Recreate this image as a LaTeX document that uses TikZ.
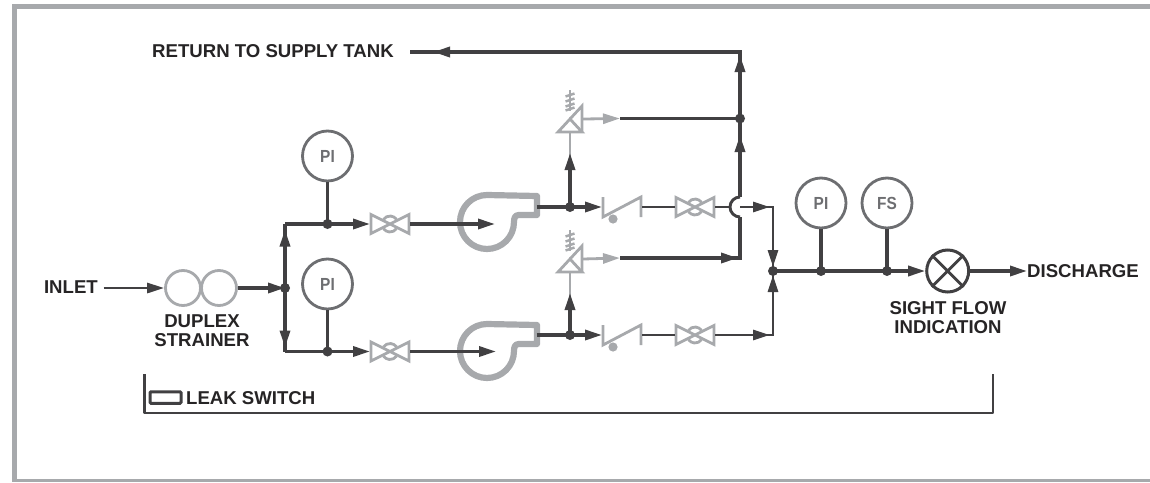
\documentclass[tikz,border=0pt]{standalone}
\usepackage{fontspec}
\setmainfont{Liberation Sans}
\newfontfamily\gaugefont[FakeStretch=0.88]{Liberation Sans Bold}
\usetikzlibrary{arrows.meta}
\definecolor{dk}{HTML}{414042}
\definecolor{gy}{HTML}{A7A9AC}
\definecolor{md}{HTML}{6D6E71}
\definecolor{tx}{HTML}{262425}
\tikzset{
 x=1pt,y=-1pt,
 main/.style={draw=dk,line width=3.3pt},
 thin line/.style={draw=dk,line width=2.9pt},
 gline/.style={draw=gy,line width=2.8pt},
 flow/.style={-{Triangle[length=17pt,width=10pt]}},
 dot/.style={circle,fill=dk,draw=none,minimum size=10pt,inner sep=0pt},
 gauge/.style={circle,draw=md,fill=white,line width=2.8pt,minimum size=50pt,inner sep=0pt,text=md,font=\fontsize{17.5}{17.5}\gaugefont},
 strainer/.style={circle,draw=gy,fill=white,line width=2.8pt,minimum size=35pt,inner sep=0pt},
 label/.style={text=tx,inner sep=0pt,align=center,font=\fontsize{18.6}{18.6}\selectfont\bfseries},
 bowtie/.pic={
  \draw[gline,line join=miter] (-19,-9.5)--(19,9.5)--(19,-9.5)--(-19,9.5)--cycle;
  \draw[gline] (35:8) arc[start angle=35,end angle=145,radius=8];
  \draw[gline] (215:8) arc[start angle=215,end angle=325,radius=8];
  \coordinate (-l) at (-20,0); \coordinate (-r) at (20,0);
 },
 checkv/.pic={
  \draw[gline] (-19,-10)--(-19,10)--(19,-10)--(19,10);
  \fill[gy] (-9,12) circle[radius=4.6];
  \coordinate (-l) at (-20,0); \coordinate (-r) at (20,0);
 },
 relief/.pic={
  \draw[gline,line join=miter] (-12,13)--(12,13)--(0,0)--cycle;
  \draw[gline,line join=miter] (12,13)--(12,-13)--(0,0);
  \draw[gy,line width=2.4pt] (0,-8)--(0,-29);
  \foreach \s in {-24,-19,-14,-10} \draw[gy,line width=2.4pt] (-4.5,\s+1.5)--(4.5,\s-1.5);
  \coordinate (-in) at (0,13); \coordinate (-out) at (13,0);
 },
 pumpbody/.pic={
  \draw[draw=gy,line width=6.2pt,line join=round]
    (27,-1) arc[start angle=0,delta angle=270,radius=27] -- (50,-27) -- (50,-8) -- (32,-8) .. controls (28,-8) and (27,-5) .. (27,-1);
  \coordinate (-out) at (50,-17); \coordinate (-in) at (8,0);
 },
}
\begin{document}
\begin{tikzpicture}
\useasboundingbox (0,0) rectangle (1150,482);
% frame
\draw[gy,line width=4.6pt] (1150,6.7) -- (14.5,6.7) -- (14.5,481.5);
\draw[gy,line width=3pt] (12.2,480.5) -- (1150,480.5);
% leak bracket
\draw[draw=dk,line width=2.9pt,line join=round] (144.5,374) -- (144.5,413) -- (993,413) -- (993,374);
\node[draw=dk,line width=3pt,rounded corners=1pt,minimum width=31pt,minimum height=11.5pt,inner sep=0pt] (leak) at (165.5,397.5) {};
\node[label,anchor=west] (leakt) at (186,398.5) {LEAK SWITCH};
% labels
\node[label,anchor=west] (ret) at (152,51) {RETURN TO SUPPLY TANK};
\node[label,anchor=east] (inlet) at (98,287) {INLET};
\node[label] (dup) at (202,330.5) {DUPLEX\\STRAINER};
\node[label] (sight) at (948,317.5) {SIGHT FLOW\\INDICATION};
\node[label,anchor=west] (dis) at (1027,271) {DISCHARGE};
% equipment
\node[strainer] (s1) at (183,288) {};
\node[strainer] (s2) at (219,288) {};
\node[gauge] (g1) at (327.5,156) {PI};
\node[gauge] (g2) at (327.5,284) {PI};
\node[gauge] (g3) at (821,203) {PI};
\node[gauge] (g4) at (887,203) {FS};
\node[circle,draw=dk,line width=3pt,minimum size=42pt,inner sep=0pt] (sf) at (947.7,271) {};
\draw[dk,line width=2.8pt] (sf.45)--(sf.225) (sf.135)--(sf.315);
\pic (p1) at (487,223) {pumpbody};
\pic (p2) at (487,352) {pumpbody};
\pic (v1) at (390,224) {bowtie};
\pic (v2) at (390,351.5) {bowtie};
\pic (v3) at (695,207) {bowtie};
\pic (v4) at (695,335) {bowtie};
\pic (c1) at (622,207) {checkv};
\pic (c2) at (622,335) {checkv};
\pic (r1) at (570,119) {relief};
\pic (r2) at (570,259) {relief};
% junctions
\node[dot] (j0) at (285,288) {};
\node[dot] (j1) at (327.5,224) {};
\node[dot] (j2) at (327.5,351.5) {};
\node[dot] (j3) at (570,207) {};
\node[dot] (j4) at (570,335) {};
\node[dot] (j5) at (740,118.5) {};
\node[dot] (j6) at (773,271) {};
\node[dot] (j7) at (821,271) {};
\node[dot] (j8) at (887,271) {};
% free points
\coordinate (inA) at (103.5,288);
\coordinate (upC) at (285,224);
\coordinate (dnC) at (285,351.5);
\coordinate (pa1) at (495,224);
\coordinate (pa2) at (496,351.5);
\coordinate (rt) at (620,118.5);
\coordinate (rb) at (620,258);
\coordinate (cr1) at (740,258);
\coordinate (ju) at (740,197);
\coordinate (jd) at (740,217);
\coordinate (jc) at (740,207);
\coordinate (top) at (740,52);
\coordinate (retE) at (410,52);
\coordinate (cr2) at (773,207);
\coordinate (cr3) at (773,335);
% gray relief lines
\draw[gline] (r1-in) -- (570,160);
\draw[gline] (r2-in) -- (570,300);
\draw[gline,flow] (r1-out) -- (rt);
\draw[gline,flow] (r2-out) -- (rb);
% dark lines
\draw[thin line,flow] (inA) -- (s1.west);
\draw[main,flow] (s2.east) -- (j0.center);
\draw[main,flow] (j0.center) -- ++(0,-58.5);
\draw[main] (j0.center) -- (upC);
\draw[main,flow] (j0.center) -- ++(0,59.5);
\draw[main] (j0.center) -- (dnC);
\draw[main,line cap=square] (upC) -- (j1.center);
\draw[main,line cap=square] (dnC) -- (j2.center);
\draw[main,flow] (j1.center) -- (v1-l);
\draw[main,flow] (j2.center) -- (v2-l);
\draw[main] (g1) -- (j1.center);
\draw[main] (g2) -- (j2.center);
\draw[main,flow] (v1-r) -- (pa1);
\draw[main,flow] (v2-r) -- (pa2);
\draw[main,flow] (p1-out) ++(-0.5,1) -- (c1-l);
\draw[main,flow] (p2-out) ++(-0.5,0) -- (c2-l);
\draw[main,flow] (j3.center) -- (570,153);
\draw[main,flow] (j4.center) -- (570,293);
\draw[thin line] (c1-r) -- (v3-l);
\draw[thin line] (c2-r) -- (v4-l);
\draw[thin line] (v3-r) -- (731,207);
\draw[thin line] (jd) arc[start angle=90,delta angle=180,radius=10];
\draw[thin line,flow] (jc) -- (770,207);
\draw[thin line,line join=miter] (jc) -- (cr2) -- (773,267);
\draw[thin line,flow] (cr2) -- (773,267);
\draw[thin line,flow] (v4-r) -- (770,335);
\draw[thin line,line join=miter] (v4-r) -- (cr3) -- (773,275);
\draw[thin line,flow] (cr3) -- (773,275);
\draw[main,flow] (rb) -- (738,258);
\draw[main,line join=miter] (rb) -- (cr1) -- (jd);
\draw[main] (rt) -- (j5.center);
\draw[main,flow] (ju) -- (740,135);
\draw[main] (ju) -- (j5.center);
\draw[main,flow] (j5.center) -- (740,55);
\draw[main,line join=miter] (j5.center) -- (top) -- (retE);
\draw[main,flow] (top) -- (433,52);
\draw[main] (j6.center) -- (j7.center);
\draw[main] (j7.center) -- (j8.center);
\draw[main,flow] (j8.center) -- (sf.west);
\draw[main] (g3) -- (j7.center);
\draw[main] (g4) -- (j8.center);
\draw[main,flow] (sf.east) -- (dis.west);
\end{tikzpicture}
\end{document}
